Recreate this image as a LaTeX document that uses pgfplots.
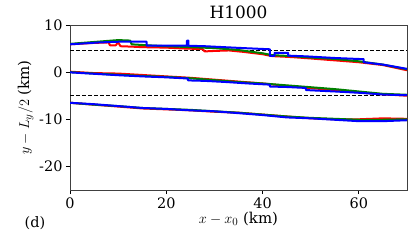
\documentclass[border=0pt]{standalone}
\usepackage{pgfplots}
\pgfplotsset{compat=1.18}
\usepackage{fontspec}
\setmainfont{DejaVu Serif}
\definecolor{mplgreen}{HTML}{008000}
\begin{document}
\begin{tikzpicture}
\begin{axis}[
  scale only axis, width=337bp, height=165bp,
  at={(0,0)}, anchor=south west,
  xmin=0, xmax=70, ymin=-25, ymax=10,
  xtick={0,20,40,60}, ytick={-20,-10,0,10},
  tick align=outside, tick pos=left,
  major tick length=4bp,
  axis line style={black!75, line width=0.8bp},
  every tick/.style={black, line width=0.8bp},
  /pgf/number format/assume math mode=true,
  ticklabel style={font=\fontsize{14.5}{16}\selectfont},
  title={H1000}, title style={font=\fontsize{17}{19}\selectfont, yshift=-3bp},
  xlabel={$x-x_0$ (km)}, ylabel={$y-L_y/2$ (km)},
  label style={font=\fontsize{15}{17}\selectfont},
  xlabel style={yshift=3bp}, ylabel style={yshift=-1bp},
  clip=true,
  every axis plot/.style={line width=2bp, line join=round},
]
% dashed reference lines
\addplot[black, dashed, line width=0.8bp, dash pattern=on 3.5bp off 2.5bp] coordinates {(0,4.7) (70,4.7)};
\addplot[black, dashed, line width=0.8bp, dash pattern=on 3.5bp off 2.5bp] coordinates {(0,-4.9) (70,-4.9)};
% ---- red ----
\addplot[red] coordinates {
(0,5.9) (5,6.2) (8,6.3) (8.3,5.7) (9.5,5.7) (10,6.3) (10.5,5.5) (13,5.4) (15,5.3) (20,5.2) (24,5.0) (27.5,4.9) (28,4.4) (30,4.5) (33,4.6) (36,4.3) (40,3.8) (42,3.4) (46,3.2) (50,2.9) (55,2.5) (60,2.1) (65,1.5) (70,0.4)};
\addplot[red] coordinates {
(0,0.1) (5,-0.2) (10,-0.3) (15,-0.6) (20,-0.9) (25,-1.2) (30,-1.6) (35,-2.0) (40,-2.4) (45,-2.9) (50,-3.4) (55,-3.8) (60,-4.3) (65,-4.7) (70,-5.0)};
\addplot[red] coordinates {
(0,-6.5) (5,-6.9) (10,-7.3) (15,-7.7) (20,-7.9) (25,-8.1) (30,-8.4) (35,-8.6) (40,-9.0) (45,-9.4) (50,-9.8) (55,-10.0) (60,-10.0) (65,-9.8) (70,-9.9)};
% ---- green ----
\addplot[mplgreen] coordinates {
(0,6.0) (5,6.4) (10,6.8) (12.5,6.7) (12.8,5.9) (16,5.7) (20,5.5) (25,5.3) (30,5.1) (35,4.7) (40,4.0) (42,3.6) (46,3.4) (50,3.1) (55,2.8) (60,2.3) (65,1.6) (70,0.6)};
\addplot[mplgreen] coordinates {
(0,0.0) (5,-0.3) (10,-0.55) (15,-0.8) (20,-1.0) (25,-1.3) (30,-1.7) (35,-2.1) (40,-2.4) (45,-2.8) (50,-3.2) (55,-3.6) (60,-4.1) (65,-4.6) (70,-4.8)};
\addplot[mplgreen] coordinates {
(0,-6.5) (5,-6.9) (10,-7.2) (15,-7.6) (20,-7.8) (25,-8.0) (30,-8.3) (35,-8.6) (40,-9.0) (45,-9.4) (50,-9.7) (55,-9.9) (60,-10.1) (65,-10.1) (70,-10.0)};
% ---- blue ----
\addplot[blue] coordinates {
(0,5.9) (3,6.1) (6,6.3) (10,6.45) (15.9,6.45) (15.9,5.65) (24.3,5.6) (24.3,6.7) (24.6,6.7) (24.6,5.6) (28,5.5) (32,5.3) (36,5.1) (41.5,4.85) (41.5,3.45) (42.5,3.45) (42.5,4.1) (45.3,4.1) (45.3,3.5) (49,3.35) (55,3.0) (61,2.75) (61,2.1) (65,1.6) (70,0.7)};
\addplot[blue] coordinates {
(0,-0.05) (5,-0.35) (10,-0.65) (15,-0.9) (20,-1.1) (24.5,-1.35) (24.5,-1.75) (28,-1.85) (32.5,-2.1) (37,-2.4) (41.5,-2.65) (41.5,-3.05) (45,-3.15) (49,-3.35) (49,-3.8) (55,-4.1) (60.5,-4.4) (65,-4.75) (70,-4.9)};
\addplot[blue] coordinates {
(0,-6.5) (5,-6.8) (10,-7.2) (15,-7.6) (20,-7.8) (25,-8.1) (30,-8.3) (35,-8.7) (40,-9.1) (45,-9.6) (50,-9.8) (55,-10.1) (60,-10.4) (65,-10.4) (70,-10.2)};
\end{axis}
\node[font=\fontsize{14.5}{16}\selectfont] at (-35bp,-33bp) {(d)};
\pgfresetboundingbox
\useasboundingbox (-70bp,-52bp) rectangle (345bp,190bp);
\end{tikzpicture}
\end{document}
